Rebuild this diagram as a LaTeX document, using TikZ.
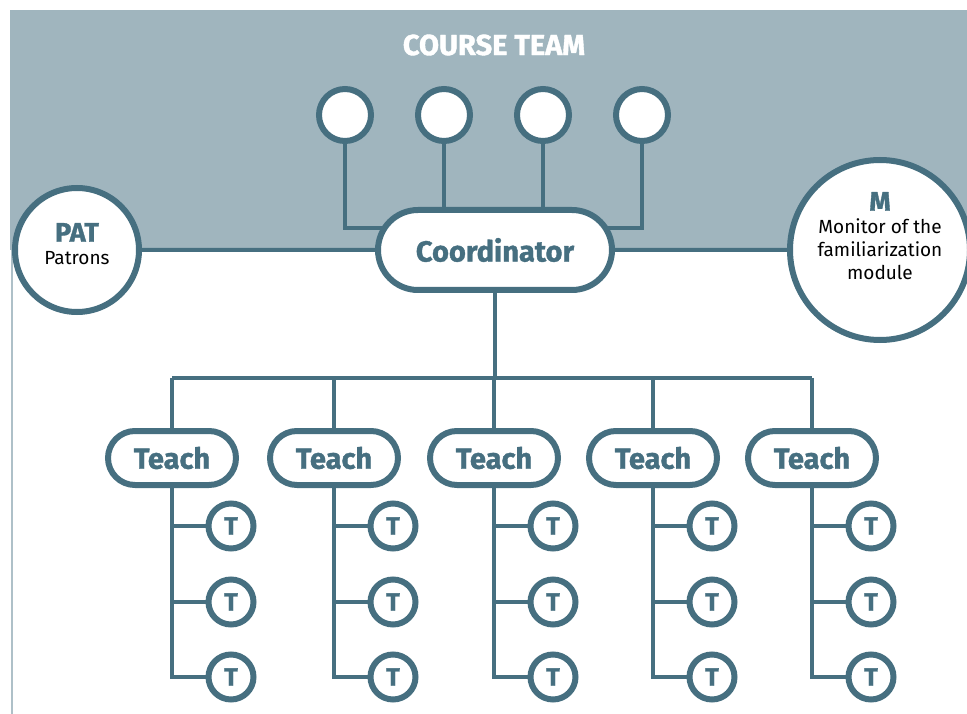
\documentclass[tikz,border=0pt]{standalone}
\usepackage{fontspec}
\setmainfont{Fira Sans}[BoldFeatures={FakeBold=1.3}]
\usetikzlibrary{shapes.misc,backgrounds,positioning}
\definecolor{teamline}{HTML}{466F80}
\definecolor{teamband}{HTML}{A0B5BE}
\tikzset{
  conn/.style={draw=teamline,line width=4pt},
  pill/.style={rounded rectangle,draw=teamline,line width=6pt,fill=white,
    text=teamline,font=\bfseries\fontsize{29}{32}\selectfont,inner sep=0pt},
  ring/.style={circle,draw=teamline,line width=6pt,fill=white,inner sep=0pt},
  tee/.style={ring,minimum size=45pt,text=teamline,font=\bfseries\fontsize{25}{27}\selectfont},
  inside/.style={align=center,font=\fontsize{19}{23}\selectfont}
}
\begin{document}
\begin{tikzpicture}[x=1pt,y=-1pt]
\useasboundingbox (0,0) rectangle (967,714);
\node[text=white,font=\bfseries\fontsize{29}{32}\selectfont] (title) at (494,45) {COURSE TEAM};
\node[pill,minimum width=234pt,minimum height=80pt] (coord) at (495,250) {Coordinator};
\node[ring,minimum size=124pt,label={[inside,yshift=6pt]center:{\color{teamline}\bfseries\fontsize{27}{29}\selectfont PAT}\\Patrons}] (pat) at (77,250) {};
\node[ring,minimum size=180pt,label={[inside,yshift=14pt]center:{\color{teamline}\bfseries\fontsize{27}{29}\selectfont M}\\Monitor of the\\familiarization\\module}] (mon) at (880,250) {};
\foreach \i/\x in {1/345,2/444,3/543,4/642}
  \node[ring,minimum size=52pt] (c\i) at (\x,115) {};
\coordinate (knee) at (495,228);
\coordinate (bus) at (495,378);
\foreach \k/\x in {1/172,2/334,3/494,4/653,5/812}{
  \node[pill,minimum width=128pt,minimum height=54pt] (teach\k) at (\x,458) {Teach};
  \foreach \j/\y in {1/526,2/602,3/677}
    \node[tee] (t\k\j) at (\x+59,\y) {T};
}
\begin{scope}[on background layer]
\fill[teamband] (10,10) rectangle (967,250);
\draw[teamband!85!white,line width=1.5pt] (12,250) -- (12,714);
\draw[conn] (pat) -- (coord) -- (mon);
\draw[conn] (c1) |- (knee);
\draw[conn] (c4) |- (knee);
\draw[conn] (c2) -- (c2 |- coord);
\draw[conn] (c3) -- (c3 |- coord);
\draw[conn] (coord) -- (bus);
\draw[conn] (teach1 |- bus) -- (teach5 |- bus);
\foreach \k in {1,...,5}{
  \draw[conn] (teach\k |- bus) -- (teach\k);
  \foreach \j in {1,2,3}
    \draw[conn] (teach\k) |- (t\k\j);
}
\end{scope}
\end{tikzpicture}
\end{document}
